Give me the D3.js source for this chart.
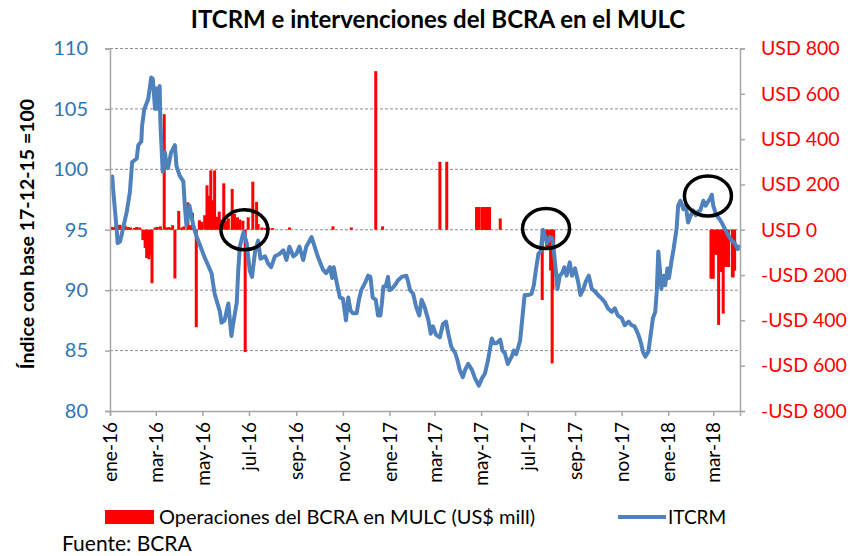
<!DOCTYPE html>
<html>
<head>
<meta charset="utf-8">
<script src="https://cdn.jsdelivr.net/npm/d3@7"></script>
<style>
  body { margin: 0; background: #fff; }
  text { font-family: Lato, "Open Sans", sans-serif; }
</style>
</head>
<body>
<div id="chart"></div>
<script>
// ITCRM (indice, base 17-12-15 = 100)
var itcrmDates = [
  "2016-01-04","2016-01-05","2016-01-07","2016-01-10","2016-01-11","2016-01-14","2016-01-16","2016-01-18","2016-01-23","2016-01-27",
  "2016-01-30","2016-02-05","2016-02-07","2016-02-11","2016-02-12","2016-02-15","2016-02-20","2016-02-24","2016-02-26","2016-02-29",
  "2016-03-02","2016-03-04","2016-03-06","2016-03-07","2016-03-10","2016-03-13","2016-03-15","2016-03-17","2016-03-21","2016-03-26",
  "2016-03-28","2016-04-01","2016-04-06","2016-04-08","2016-04-10","2016-04-14","2016-04-19","2016-04-23","2016-04-28","2016-05-04",
  "2016-05-13","2016-05-17","2016-05-24","2016-05-26","2016-05-30","2016-06-04","2016-06-06","2016-06-08","2016-06-10","2016-06-15",
  "2016-06-17","2016-06-19","2016-06-23","2016-06-24","2016-06-28","2016-07-02","2016-07-05","2016-07-09","2016-07-13","2016-07-16",
  "2016-07-22","2016-07-26","2016-07-30","2016-08-04","2016-08-10","2016-08-15","2016-08-19","2016-08-23","2016-08-28","2016-09-01",
  "2016-09-05","2016-09-10","2016-09-14","2016-09-21","2016-09-25","2016-09-29","2016-10-04","2016-10-06","2016-10-10","2016-10-15",
  "2016-10-18","2016-10-20","2016-10-24","2016-10-28","2016-11-01","2016-11-05","2016-11-08","2016-11-11","2016-11-14","2016-11-19",
  "2016-11-22","2016-11-25","2016-11-30","2016-12-04","2016-12-07","2016-12-10","2016-12-14","2016-12-17","2016-12-20","2016-12-22",
  "2016-12-24","2016-12-27","2016-12-30","2017-01-01","2017-01-04","2017-01-08","2017-01-12","2017-01-17","2017-01-23","2017-01-25",
  "2017-01-28","2017-02-01","2017-02-05","2017-02-09","2017-02-12","2017-02-16","2017-02-21","2017-02-24","2017-02-27","2017-03-03",
  "2017-03-08","2017-03-12","2017-03-16","2017-03-19","2017-03-23","2017-03-28","2017-03-31","2017-04-03","2017-04-07","2017-04-10",
  "2017-04-14","2017-04-19","2017-04-23","2017-04-28","2017-05-02","2017-05-06","2017-05-10","2017-05-15","2017-05-18","2017-05-21",
  "2017-05-26","2017-05-29","2017-06-01","2017-06-05","2017-06-10","2017-06-13","2017-06-16","2017-06-21","2017-06-24","2017-06-27",
  "2017-07-02","2017-07-06","2017-07-09","2017-07-12","2017-07-15","2017-07-18","2017-07-21","2017-07-24","2017-07-26","2017-07-30",
  "2017-08-02","2017-08-04","2017-08-07","2017-08-09","2017-08-12","2017-08-15","2017-08-18","2017-08-21","2017-08-25","2017-08-28",
  "2017-09-01","2017-09-05","2017-09-08","2017-09-12","2017-09-15","2017-09-19","2017-09-23","2017-09-27","2017-10-01","2017-10-06",
  "2017-10-10","2017-10-14","2017-10-19","2017-10-23","2017-10-27","2017-11-01","2017-11-05","2017-11-10","2017-11-14","2017-11-18",
  "2017-11-23","2017-11-26","2017-11-29","2017-12-02","2017-12-06","2017-12-09","2017-12-12","2017-12-15","2017-12-17","2017-12-19",
  "2017-12-21","2017-12-23","2017-12-26","2017-12-28","2017-12-31","2018-01-02","2018-01-05","2018-01-08","2018-01-12","2018-01-14",
  "2018-01-17","2018-01-21","2018-01-24","2018-01-27","2018-01-30","2018-02-03","2018-02-06","2018-02-09","2018-02-12","2018-02-16",
  "2018-02-19","2018-02-22","2018-02-25","2018-02-27","2018-03-01","2018-03-05","2018-03-09","2018-03-12","2018-03-16","2018-03-21",
  "2018-03-25","2018-03-29","2018-04-02","2018-04-04"
];
var itcrmValues = [
  99.4,98.4,97.0,94.8,93.9,94.0,94.5,95.1,96.5,98.1,
  100.6,100.9,102.0,102.3,103.6,105.0,105.8,107.6,107.5,105.0,
  106.7,105.0,106.9,103.9,99.8,101.4,100.3,100.1,101.4,102.0,
  100.3,99.5,99.0,97.0,95.4,97.0,95.4,94.5,93.7,92.7,
  91.4,89.7,88.2,87.3,87.5,88.9,87.5,86.2,87.1,89.0,
  91.7,93.6,94.6,94.8,93.9,91.6,91.1,93.2,94.1,92.6,
  92.8,92.2,91.9,92.8,93.0,93.3,92.5,93.6,92.8,93.0,
  93.6,92.5,93.6,94.4,93.6,92.8,92.0,91.7,91.4,91.9,
  91.0,91.9,90.6,89.4,89.3,87.5,89.4,88.3,88.1,88.1,
  89.2,90.0,90.6,91.2,91.1,89.4,89.2,87.9,87.9,88.9,
  90.3,90.3,91.1,90.0,90.1,90.4,90.8,91.1,91.2,90.8,
  90.0,89.7,88.6,87.9,89.2,88.6,87.5,86.4,87.0,86.3,
  86.1,87.2,87.4,86.4,85.3,84.8,84.2,83.4,82.8,83.4,
  83.9,83.4,82.7,82.1,82.7,83.1,84.2,86.0,85.6,85.6,
  85.9,85.0,84.8,83.9,84.5,85.0,84.7,85.8,87.7,89.6,
  89.6,89.7,90.4,91.8,93.0,93.2,95.0,94.4,93.9,94.4,
  94.3,93.4,91.5,90.1,91.2,91.4,91.9,91.2,92.3,91.2,
  91.8,90.7,89.6,90.1,90.7,91.2,90.1,89.9,89.6,89.3,
  89.0,88.5,88.2,88.5,87.9,87.7,87.1,87.4,87.1,87.0,
  86.3,85.7,84.9,84.5,84.9,86.3,87.7,88.2,89.9,93.2,
  91.8,90.1,91.2,90.4,91.8,91.0,92.3,93.4,95.1,97.0,
  97.4,96.7,97.0,95.6,96.1,96.6,96.2,96.5,96.6,97.4,
  97.0,97.3,97.6,97.9,97.0,96.2,95.9,95.6,95.1,94.5,
  94.1,93.9,93.4,93.6
];

// Operaciones del BCRA en MULC (US$ mill)
var opDates = [
  "2016-01-04","2016-01-06","2016-01-08","2016-01-12","2016-01-14","2016-01-18","2016-01-21","2016-01-25","2016-01-28","2016-02-02",
  "2016-02-05","2016-02-09","2016-02-13","2016-02-16","2016-02-18","2016-02-21","2016-02-23","2016-02-25","2016-02-29","2016-03-03",
  "2016-03-07","2016-03-12","2016-03-15","2016-03-18","2016-03-21","2016-03-23","2016-03-26","2016-03-31","2016-04-04","2016-04-07",
  "2016-04-12","2016-04-15","2016-04-18","2016-04-23","2016-04-27","2016-04-30","2016-05-04","2016-05-07","2016-05-09","2016-05-12",
  "2016-05-15","2016-05-17","2016-05-20","2016-05-23","2016-05-25","2016-05-29","2016-06-01","2016-06-04","2016-06-09","2016-06-12",
  "2016-06-16","2016-06-19","2016-06-23","2016-06-26","2016-06-30","2016-07-06","2016-07-11","2016-07-13","2016-07-18","2016-07-22",
  "2016-07-27","2016-08-01","2016-08-23","2016-10-19","2016-11-12","2016-12-14","2016-12-23","2017-03-08","2017-03-17","2017-04-25",
  "2017-04-26","2017-04-27","2017-04-28","2017-05-02","2017-05-03","2017-05-04","2017-05-05","2017-05-08","2017-05-09","2017-05-10",
  "2017-05-11","2017-05-12","2017-05-26","2017-07-20","2017-07-26","2017-07-27","2017-07-28","2017-07-31","2017-08-01","2017-08-02",
  "2017-08-03","2017-08-04","2018-02-26","2018-02-27","2018-02-28","2018-03-01","2018-03-02","2018-03-05","2018-03-06","2018-03-07",
  "2018-03-08","2018-03-09","2018-03-12","2018-03-13","2018-03-14","2018-03-15","2018-03-16","2018-03-19","2018-03-20","2018-03-21",
  "2018-03-26","2018-03-27","2018-03-28","2018-03-29"
];
var opValues = [
  12,8,15,20,22,14,18,12,10,8,
  12,10,-46,-80,-125,-130,-110,-236,10,12,
  15,510,10,12,8,20,-215,83,10,15,
  121,20,75,-430,42,35,64,196,150,262,
  130,262,57,80,45,205,40,50,180,70,
  55,45,40,-540,55,212,123,25,10,8,
  10,8,10,15,10,700,15,300,300,100,
  100,100,100,100,100,100,100,100,100,100,
  100,100,50,-310,-80,-80,-80,-180,-80,-590,
  -265,-80,-215,-215,-215,-215,-110,-110,-110,-110,
  -420,-186,-186,-186,-370,-164,-164,-164,-164,-164,
  -210,-210,-180,-180
];

var leftTicks = [80, 85, 90, 95, 100, 105, 110];
var gridTicks = [85, 90, 95, 100, 105, 110];
var rightTicks = [-800, -600, -400, -200, 0, 200, 400, 600, 800];
var monthNames = ["ene","feb","mar","abr","may","jun","jul","ago","sep","oct","nov","dic"];

// circulos de anotacion
var markDates = ["2016-06-25", "2017-07-25", "2018-02-22"];
var markValues = [95.0, 95.1, 97.8];

var W = 850, H = 556;
var parse = d3.timeParse("%Y-%m-%d");

var svg = d3.select("#chart").append("svg")
  .attr("width", W)
  .attr("height", H);

var x = d3.scaleTime()
  .domain([parse("2016-01-01"), parse("2018-04-05")])
  .range([110, 740]);
var yL = d3.scaleLinear().domain([80, 110]).range([411, 48.5]);
var yR = d3.scaleLinear().domain([-800, 800]).range([411, 48.5]);

// grid
svg.selectAll(".grid").data(gridTicks).enter().append("line")
  .attr("class", "grid")
  .attr("x1", 110).attr("x2", 740)
  .attr("y1", function(d) { return yL(d); })
  .attr("y2", function(d) { return yL(d); })
  .attr("stroke", "#8c8c8c")
  .attr("stroke-width", 1)
  .attr("stroke-dasharray", "3,2");

// barras
var bars = opDates.map(function(d, i) { return { date: parse(d), value: opValues[i] }; });
svg.selectAll(".bar").data(bars).enter().append("rect")
  .attr("class", "bar")
  .attr("x", function(d) { return x(d.date) - 1.5; })
  .attr("width", 3)
  .attr("y", function(d) { return yR(Math.max(0, d.value)); })
  .attr("height", function(d) { return Math.abs(yR(d.value) - yR(0)); })
  .attr("fill", "#ff0000");

// linea ITCRM
var pts = itcrmDates.map(function(d, i) { return { date: parse(d), value: itcrmValues[i] }; });
svg.append("path")
  .datum(pts)
  .attr("fill", "none")
  .attr("stroke", "#4f81bd")
  .attr("stroke-width", 4)
  .attr("stroke-linejoin", "round")
  .attr("stroke-linecap", "round")
  .attr("d", d3.line()
    .x(function(d) { return x(d.date); })
    .y(function(d) { return yL(d.value); }));

// ejes
var axisL = svg.append("g")
  .attr("transform", "translate(110,0)")
  .call(d3.axisLeft(yL).tickValues(leftTicks).tickSize(5).tickPadding(17));
axisL.selectAll("text").attr("fill", "#2e75b6").style("font-size", "20px");

var axisR = svg.append("g")
  .attr("transform", "translate(740,0)")
  .call(d3.axisRight(yR).tickValues(rightTicks).tickSize(5).tickPadding(16)
    .tickFormat(function(d) { return d < 0 ? "-USD " + Math.abs(d) : "USD " + d; }));
axisR.selectAll("text").attr("fill", "#ff0000").style("font-size", "19.5px");

var xTicks = d3.timeMonth.every(2).range(parse("2016-01-01"), parse("2018-04-05"));
var axisB = svg.append("g")
  .attr("transform", "translate(0,411)")
  .call(d3.axisBottom(x).tickValues(xTicks).tickSize(5)
    .tickFormat(function(d) { return monthNames[d.getMonth()] + "-" + String(d.getFullYear()).slice(2); }));
axisB.selectAll("text")
  .attr("transform", "rotate(-90)")
  .attr("text-anchor", "end")
  .attr("x", -11)
  .attr("y", 0)
  .attr("dy", "0.35em")
  .attr("fill", "#000")
  .style("font-size", "19px");

[axisL, axisR, axisB].forEach(function(a) {
  a.selectAll(".domain").attr("stroke", "#a6a6a6").attr("stroke-width", 1.5);
  a.selectAll(".tick line").attr("stroke", "#a6a6a6").attr("stroke-width", 1.5);
});

// circulos
svg.selectAll(".mark").data(markDates).enter().append("ellipse")
  .attr("class", "mark")
  .attr("cx", function(d) { return x(parse(d)); })
  .attr("cy", function(d, i) { return yL(markValues[i]); })
  .attr("rx", 23.5)
  .attr("ry", 20)
  .attr("fill", "none")
  .attr("stroke", "#000")
  .attr("stroke-width", 3.5);

// titulos
svg.append("text")
  .attr("x", 438).attr("y", 28)
  .attr("text-anchor", "middle")
  .style("font-size", "24px").style("font-weight", "bold")
  .text("ITCRM e intervenciones del BCRA en el MULC");

svg.append("text")
  .attr("transform", "translate(34,234) rotate(-90)")
  .attr("text-anchor", "middle")
  .style("font-size", "19.5px").style("font-weight", "bold")
  .text("Índice con base 17-12-15 =100");

// leyenda
var leg = svg.append("g");
leg.append("rect").attr("x", 105).attr("y", 510).attr("width", 49).attr("height", 14).attr("fill", "#ff0000");
leg.append("text").attr("x", 159).attr("y", 524).style("font-size", "20px")
  .text("Operaciones del BCRA en MULC (US$ mill)");
leg.append("line").attr("x1", 618).attr("x2", 666).attr("y1", 517).attr("y2", 517)
  .attr("stroke", "#4f81bd").attr("stroke-width", 4);
leg.append("text").attr("x", 668).attr("y", 524).style("font-size", "19px").text("ITCRM");

svg.append("text").attr("x", 62).attr("y", 551).style("font-size", "21px").text("Fuente: BCRA");
</script>
</body>
</html>
